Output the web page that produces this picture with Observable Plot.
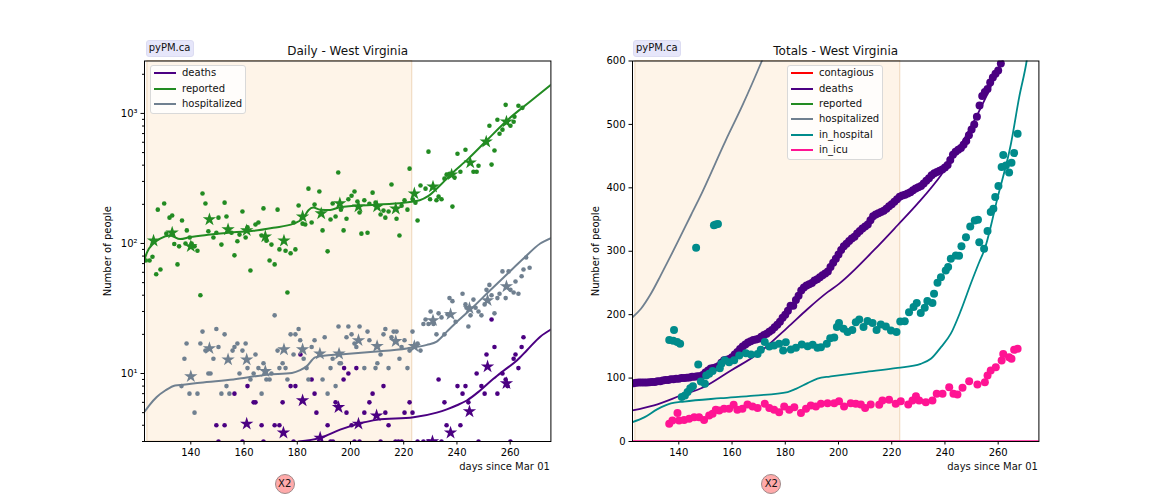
<!DOCTYPE html>
<html><head><meta charset="utf-8">
<script src="https://cdn.jsdelivr.net/npm/d3@7"></script>
<script src="https://cdn.jsdelivr.net/npm/@observablehq/plot@0.6"></script>
<style>
html,body{margin:0;padding:0;background:#fff;font-family:"DejaVu Sans",sans-serif;}
#fig{position:relative;width:1152px;height:504px;overflow:hidden;color:#000;}
#fig svg{position:absolute;top:0;background:transparent;max-width:none;}
.pill{position:absolute;top:40px;width:46px;height:15px;background:#e6e6fa;border:1px solid #dcdcf2;border-radius:3px;font-size:10px;line-height:14.5px;text-align:center;color:#111;}
.x2{position:absolute;top:474px;width:18px;height:18px;border-radius:50%;background:#ffaaaa;border:1px solid #a08a8a;font-size:10px;line-height:18px;text-align:center;color:#111;}
.legend{position:absolute;top:65px;width:94.5px;background:rgba(255,255,255,.8);border:1px solid #d9d9d9;border-radius:3px;font-size:10px;padding-bottom:.5px;}
.legend div{position:relative;top:-.7px;height:15.35px;line-height:15.35px;padding-left:31.5px;white-space:nowrap;color:#111;}
.legend i{position:absolute;left:3px;top:7px;width:22px;height:2px;}
</style></head>
<body><div id="fig"></div>
<script>
const days=[140,160,180,200,220,240,260];
const dayDomain=[122.6,275.3];
const shade=[{x1:123.7,x2:223.2}];
const logMajor=[10,100,1000];
const logMinor=[3,4,5,6,7,8,9,20,30,40,50,60,70,80,90,200,300,400,500,600,700,800,900,2000];
const totalTicks=[0,100,200,300,400,500,600];
const colors={contagious:"#ff0000",deaths:"#4b0082",reported:"#228b22",hospitalized:"#708090",in_hospital:"#008b8b",in_icu:"#ff1493"};

// Daily panel: scattered daily values
const reportedDots=[[123.1,74],[124.5,74],[125.6,79],[127,58],[127.6,182],[128.6,63],[130,203],[130.8,119],[132,158],[133,164],[133.8,99],[135,69],[135.6,95],[136.7,150],[138,100],[138.5,126],[139.6,111],[140.3,100],[141.4,95],[142.5,88],[143.6,40],[144.4,242],[145.5,203],[146.6,124],[148.5,111],[149.6,121],[150.4,158],[151.5,98],[152.7,206],[153.4,161],[155.3,121],[156.4,81],[157.5,104],[158.3,117],[159.4,176],[160.6,111],[161.3,133],[162.4,62],[164.3,140],[165.4,145],[166.6,115],[167.3,186],[168.4,105],[169.6,74],[170.3,98],[171.5,69],[172.6,182],[173.3,90],[175.6,88],[176.3,42],[177.5,84],[178.6,145],[179.3,90],[180.5,196],[182,142],[183,140],[184.2,264],[185.4,145],[186.5,199],[188.3,251],[189.5,126],[191.4,87],[192.5,153],[193.3,203],[194.4,161],[195.4,351],[196.4,182],[197.4,126],[198.5,155],[199.2,219],[200.4,233],[201.5,251],[202.6,210],[203.4,173],[204.1,119],[205.2,215],[206.4,121],[207.1,202],[208.3,246],[209.4,206],[211.3,167],[212.4,179],[213.1,158],[214.3,176],[215.4,284],[217.3,155],[218.4,115],[219.2,195],[220.3,215],[221.4,182],[222.2,376],[223.4,219],[224.4,206],[225.2,150],[226.3,279],[228.2,264],[229.3,508],[229.9,219],[232.3,215],[233.1,229],[234.2,219],[235.3,315],[236.1,338],[237.2,344],[238.3,192],[239.1,321],[240.2,490],[241.3,356],[243.2,526],[246.2,356],[247.4,356],[248.1,396],[252.2,804],[253,404],[254.1,518],[255.2,893],[256,698],[257.1,750],[258.3,1164],[260.1,804],[261.3,863],[261.6,942],[263.1,1145],[264.6,1104]];
const hospitalizedDots=[[136.5,8],[137.6,13],[138.4,17],[139.5,7],[141.4,5],[142.5,7],[143.6,17],[144.4,21],[145.5,15],[146.6,10],[147.4,10],[148.5,13],[149.6,22],[150.4,16],[151.5,7],[152.7,20],[153.4,8],[154.5,7],[155.7,15],[156.4,16],[157.5,17],[158.3,10],[159.4,15],[160.6,17],[161.3,11],[162.4,9],[163.6,10],[164.3,14],[165.4,11],[166.6,7],[167.3,12],[168.4,9],[169.6,9],[170.3,10],[171.5,28],[172.6,15],[173.3,11],[174.5,12],[175.6,11],[176.3,9],[177.5,20],[178.6,14],[179.3,20],[180.5,22],[181.1,18],[182.4,13],[183.5,11],[184.2,9],[185.4,16],[186.5,18],[189.5,9],[190.3,19],[191.4,7],[192.5,11],[193.3,13],[194.4,8],[195.5,23],[195.9,12],[196.4,12],[198.5,19],[199.2,23],[200.4,20],[201.5,17],[202.2,16],[203.4,23],[205.2,11],[206.4,21],[207.1,18],[209.4,11],[210.1,12],[211.3,14],[212.4,20],[213.1,22],[214.3,11],[215.4,19],[216.2,21],[217.3,21],[218.4,13],[219.2,16],[220.3,18],[221.4,11],[222.2,15],[223.3,21],[225.2,17],[226.3,15],[227.4,24],[228.2,26],[229.3,24],[230.1,30],[231.2,24],[232.3,20],[233.1,29],[234.2,27],[235.3,20],[236.5,28.5],[237.2,38],[238.3,36],[239.5,25],[242.1,41],[243.2,34],[243.6,32],[244.3,23],[245.1,28],[246.2,37],[247,32],[248.1,30],[249.2,28],[250.4,34],[251.1,44],[252.2,48],[253,40],[254.1,29],[255.2,38],[256,41],[257.1,61],[258.3,38],[259.4,61],[260.1,44],[261.3,42],[262,51],[263.1,41],[264.3,56],[265,63],[266,78],[267.3,65]];
const deathsDots=[[149.6,4],[150.4,3],[152.7,4],[156.4,7],[159.4,3],[161.3,8],[163.6,6],[164.3,6],[166.6,4],[167.3,3],[171.5,4],[173.3,4],[174.5,6],[177.5,8],[178.6,3],[179.3,8],[181.2,14],[185.4,9],[186.5,7],[187.2,5],[191.4,4],[192.5,3],[193.4,3],[194.4,6],[197.4,9],[197.6,11],[198.5,5],[199.2,10],[200.4,4],[201.5,3],[202.2,11],[203.4,3],[205.2,5],[207.1,6],[208.3,7],[211.3,3],[212.4,8],[213.1,5],[214.3,4],[216.9,3],[218,3],[219.2,3],[220.3,5],[222.2,6],[223.3,5],[225.2,3],[227.4,3],[229.3,3],[233.1,9],[234.2,3],[235.3,6],[236.1,4],[240.2,8],[241.3,4],[242.1,7],[243.2,8],[244.3,6],[247.4,10],[248.1,3],[249.2,8],[250.4,7],[251.1,14],[253,26],[254.1,16],[255.2,7],[257.1,10],[258.3,9],[259,8],[260.1,3],[261.3,13],[262,14],[263.1,11],[264.3,16],[265,19]];

// Daily panel: weekly averages (stars)
const reportedStars=[[126,105],[133,121],[140,95],[147,153],[154,128],[161,126],[168,113],[175,105],[182,161],[189,170],[196,203],[203,192],[210,192],[217,185],[224,242],[231,273],[238,338],[245,418],[251,606],[258.6,863]];
const hospitalizedStars=[[140,9.5],[147,15.6],[154,12.8],[161,12.8],[168,10.4],[175,15.3],[182,15.3],[188.5,14.2],[195.7,14.2],[203,18],[210,16.2],[217,17.7],[224,16.2],[231,25.6],[237.6,28.5],[244.7,31.7],[251.5,36.5],[258.6,46.7]];
const deathsStars=[[161,4.1],[174.8,3.5],[182,6.2],[188.6,3.2],[195.5,5.5],[203,4.1],[209.8,4.75],[230.8,3],[237.6,3.5],[244.7,5.1],[251.5,11.3],[258.6,8.4]];

// Daily panel: model lines
const reportedLine=[[122.6,75],[123.5,85],[126,100],[128.5,109],[132.2,115],[136,108],[139.7,112],[147.3,117],[156,122],[163.6,125],[171,132],[178.6,142],[182.4,158],[184.2,180],[186,189],[188.6,182],[192.4,181],[196,190],[208,198],[220,206],[226,215],[229.3,232],[233.7,280],[237.6,338],[244.3,449],[251.2,621],[258.8,883],[267.5,1236],[275.3,1660]];
const hospitalizedLine=[[122.6,5.08],[124.7,5.8],[127.2,6.6],[130.4,7.4],[134.1,8.1],[137.2,8.2],[143.5,8.5],[156,9],[168.6,9.8],[178,10.1],[181.1,10.6],[183.6,11.4],[186.7,13.3],[189.9,13.7],[196,14],[208.6,14.7],[221.2,15.6],[228.7,16.6],[232.4,17.6],[236.2,21],[240,25],[246.2,32.6],[252.5,43.7],[258.8,58],[265,76.5],[271.3,100],[275.3,110]];
const deathsLine=[[180.5,3],[188.6,3.2],[196.1,3.7],[203,4.1],[209.9,4.4],[223.7,4.6],[232.4,5],[236.2,5.3],[240,5.7],[243.7,6.2],[248.7,7.4],[253.7,9.1],[257.5,10.5],[262.5,12.6],[266.3,15.1],[271.3,19.2],[275.3,21.8]];

// Totals panel: observed values
const totalDeathsDots=[[123,92],[124,92.5],[125,93],[126,93],[127,93],[128,93],[129,93.5],[130,94],[131,94],[132,95],[133,95],[134,96],[135,97],[136,97],[137,98],[138,98],[139,99],[140,99],[141,100],[142,100],[143,100.5],[144,101],[145,102],[146,102],[147,103],[148,103],[149,105],[150,109],[151,112],[152,115],[153,116],[154,117],[155,119],[156,124],[157,128],[158,129],[159,130],[160,133],[161,137],[162,141],[163,146],[164,150],[165,153],[166,156],[167,158],[168,160],[169,161],[170,162],[171,165],[172,168],[173,170],[174,173],[175,176],[176,180],[177,184],[178,189],[179,195],[180,200],[181,206],[182,214],[183,214],[184,223],[185,230],[186,238],[187,243],[188,246],[189,248],[190,250],[191,254],[192,256],[193,259],[194,262],[195,265],[196,268],[197,275],[198,282],[199,288],[200,295],[201,302],[202,308],[203,312],[204,316],[205,320],[206,323],[207,328],[208,332],[209,336],[210,339],[211,342],[212,349],[213,355],[214,358],[215,360],[216,362],[217,364],[218,367],[219,371],[220,374],[221,378],[222,382],[223,386],[224,388],[225,389],[226,391],[227,393],[228,396],[229,399],[230,401],[231,403],[232,407],[233,411],[234,415],[235,420],[236,423],[237,425],[238,427],[239,429],[240,432],[241,436],[242,444],[243,452],[244,457],[245,460],[246,463],[247,468],[248,474],[249,483],[250,492],[251,500],[252,512],[253,530],[254,545],[255,551],[256,556],[257,566],[258,574],[259,580],[260,585],[261,596]];
const inHospitalDots=[[136.4,160],[137.9,159],[138.2,176],[139.4,157],[140.5,154],[141.1,70],[142.3,72.5],[143.3,78],[144.3,84],[145.3,87],[146.5,305.4],[147.3,121.4],[148.3,94.6],[149.8,91],[150.3,104],[151.4,107],[152.7,111],[153.2,341],[153.9,342],[154.7,343],[155.4,115.6],[156,122.5],[157.3,128],[158.9,125],[160.8,128],[162.7,135.6],[165.2,139],[167.1,137],[169.6,138],[170.8,144.6],[172.3,157],[174,149.8],[175.8,151.4],[177.7,154],[179.2,143.5],[180.2,156.6],[182.1,145],[184,147.7],[186.2,153],[188.4,150.3],[190.3,152.4],[192.1,147.7],[193.4,148.8],[195.6,154],[196.9,163],[198.4,164],[199.4,180.4],[200.2,186.7],[201.9,177.7],[203.4,172.5],[205.2,176],[206.5,188],[207.8,192.5],[209.4,180.4],[210.9,190],[212.8,186.7],[214.3,176],[215.9,184.6],[217.8,181.4],[219.7,175],[221.8,172.5],[223.2,189.3],[224.9,189.8],[226.5,204],[228.2,212],[229.4,218.2],[230.9,202.5],[232.4,210.9],[233.4,221.4],[235.3,218.2],[235.9,233],[237.2,250.3],[238.5,259],[240.3,269.8],[241.2,275],[242.2,288],[244.1,293.4],[245.3,292.9],[246.2,308],[247.9,322],[249.5,339],[251.2,348.6],[252.4,349.6],[252.9,314],[254.7,304],[256,332],[257.2,361.7],[258.2,367],[258.9,385.4],[260.1,402.7],[261.3,432.7],[261.9,451.6],[262.9,435.3],[264.1,424],[265,439.5],[266,454.8],[267.3,485.3]];
const inIcuDots=[[136.4,27.8],[137.6,33],[139.5,45],[140.1,33],[142,34],[143.9,35.7],[145.8,38.4],[147.6,38.4],[149.5,34],[151.4,41],[152.7,43.6],[153.9,50],[155.2,48.9],[157,51.5],[158.9,51.5],[160.6,57.8],[162,50],[163.9,51.5],[165.8,58.3],[167.7,55],[169.6,53],[172.3,59.4],[174,53],[175.8,50],[177.7,46.2],[179.6,55],[181.5,50],[183.4,54],[185.9,45],[187.8,51.5],[189.6,56.8],[191.5,55],[193.4,59.4],[195.9,60.4],[198.4,60.5],[200.2,63.6],[202.1,55.2],[204.6,60.5],[206.5,59.4],[208.4,58.4],[210,53],[212.1,58.4],[215.3,57.9],[216.5,64.7],[219,65.8],[221.5,59.4],[223.4,63.6],[226.2,58.4],[227.8,64.7],[229.1,71.5],[230.3,64.7],[232.8,62],[235.3,64.7],[236.9,75.2],[239.1,75.2],[241.6,85.7],[243.2,75.2],[244.7,74],[246.6,84.7],[249.1,95],[252.2,90],[255,93.6],[256,104],[257.2,112],[259.1,117],[261.3,127.8],[261.9,138],[264.1,133],[265,130.4],[266,144.6],[267.3,146.2]];

// Totals panel: model lines
const totalDeathsLine=[[122.6,49],[130.7,57],[140.8,72.5],[149.5,86],[159.6,112],[169.6,138],[180.9,180],[188.4,209],[195.9,235.5],[200.3,249],[213.4,302],[222.2,341],[229.7,375],[238.5,420],[256,548],[261,596],[262,603]];
const totalHospitalizedLine=[[122.6,196],[125.7,209],[129.5,233],[133.2,262],[137,293],[140.8,325],[144.5,356.4],[147.6,382.5],[157.6,474.5],[163.9,530],[171.2,600],[172,608]];
const inHospitalLine=[[122.6,30.5],[127,38],[132,51],[137,60],[142,63],[155.8,68.3],[168.3,72.5],[180.9,78],[184,83],[188.4,92],[192.1,99],[195.9,102],[197.1,102.6],[209.6,109.4],[222.2,116],[230.9,122.5],[234.7,130.4],[238.5,148.8],[242.2,170],[246,206.7],[249.7,248.7],[252.9,283],[254.8,302],[259.8,385],[264.8,469.5],[267.9,543],[270.7,600],[271,608]];
const inIcuLine=[[122.6,0],[275.3,0]];

const fig=document.getElementById("fig");
const fp={x:d=>d[0],y:d=>d[1]};
const base=(title)=>[
  Plot.rect(shade,{x1:"x1",x2:"x2",fill:"#fef4e8",stroke:"#eed6ba",strokeWidth:1}),
  Plot.text([title],{frameAnchor:"top",dy:-15,fontSize:12,fill:"#111"})
];
const scatter=(arr,c,r)=>Plot.dot(arr,{...fp,r,fill:c,stroke:"none",clip:true});
const stars=(arr,c)=>Plot.dot(arr,{...fp,r:4.2,symbol:"star",fill:c,stroke:"none",clip:true});
const line=(arr,c,w)=>Plot.line(arr,{...fp,stroke:c,strokeWidth:w,curve:"monotone-x",clip:true});
const xAxis=()=>[
  Plot.axisX({ticks:days,tickSize:3.5,tickPadding:3.5,label:null,fontSize:10,anchor:"bottom"}),
  Plot.text(["days since Mar 01"],{frameAnchor:"bottom-right",dx:-1,dy:28,fontSize:10,fill:"#111"})
];
const frame=()=>Plot.frame({stroke:"#000",strokeWidth:1});
const common={width:576,height:504,marginLeft:144,marginRight:25.6,marginTop:60.5,marginBottom:63,style:{fontFamily:"DejaVu Sans",fontSize:"10px",background:"transparent",overflow:"visible"}};
const sup={10:"10¹",100:"10²",1000:"10³"};

const left=Plot.plot({...common,
  x:{domain:dayDomain},
  y:{type:"log",domain:[3,2530]},
  marks:[
    ...base("Daily - West Virginia"),
    line(deathsLine,colors.deaths,2),
    line(reportedLine,colors.reported,2),
    line(hospitalizedLine,colors.hospitalized,2),
    scatter(deathsDots,colors.deaths,2.3),
    scatter(reportedDots,colors.reported,2.3),
    scatter(hospitalizedDots,colors.hospitalized,2.3),
    stars(deathsStars,colors.deaths),
    stars(reportedStars,colors.reported),
    stars(hospitalizedStars,colors.hospitalized),
    ...xAxis(),
    Plot.axisY({ticks:logMajor,tickSize:3.5,tickPadding:3.5,tickFormat:d=>sup[d],label:"Number of people",labelAnchor:"center",labelArrow:"none",labelOffset:41,fontSize:10}),
    Plot.axisY({ticks:logMinor,tickSize:2,tickFormat:()=>"",label:null}),
    frame()
  ]});
left.style.left="0px";

const right=Plot.plot({...common,
  x:{domain:dayDomain},
  y:{domain:[0,600]},
  marks:[
    ...base("Totals - West Virginia"),
    line(totalHospitalizedLine,colors.hospitalized,1.8),
    line(totalDeathsLine,colors.deaths,1.8),
    line(inHospitalLine,colors.in_hospital,1.8),
    line(inIcuLine,colors.in_icu,2.4),
    scatter(totalDeathsDots,colors.deaths,4),
    scatter(inHospitalDots,colors.in_hospital,4),
    scatter(inIcuDots,colors.in_icu,4),
    ...xAxis(),
    Plot.axisY({ticks:totalTicks,tickSize:3.5,tickPadding:3.5,label:"Number of people",labelAnchor:"center",labelArrow:"none",labelOffset:41,fontSize:10}),
    frame()
  ]});
right.style.left="487.6px";
fig.append(left,right);

function legend(names,leftPx){
  const el=document.createElement("div");el.className="legend";el.style.left=leftPx+"px";
  for(const n of names){
    const row=document.createElement("div");
    const sw=document.createElement("i");sw.style.background=colors[n];
    row.append(sw,document.createTextNode(n));
    el.append(row);
  }
  fig.append(el);
}
legend(["deaths","reported","hospitalized"],149.5);
legend(["contagious","deaths","reported","hospitalized","in_hospital","in_icu"],786.5);
for(const [c,px,txt] of [["pill",145.5,"pyPM.ca"],["pill",632.8,"pyPM.ca"],["x2",274.7,"X2"],["x2",761.3,"X2"]]){
  const el=document.createElement("div");el.className=c;el.style.left=px+"px";el.textContent=txt;fig.append(el);
}
</script></body></html>
